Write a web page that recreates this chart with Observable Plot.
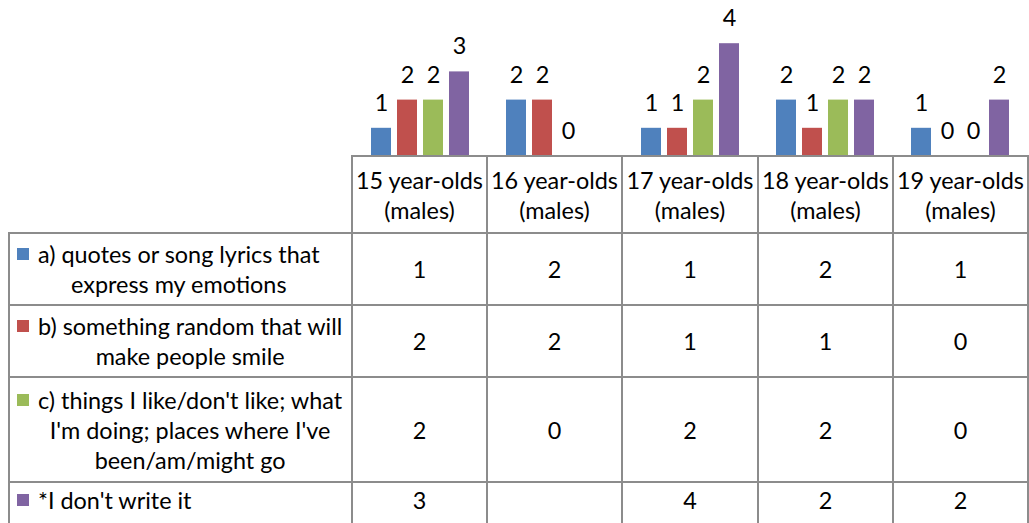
<!DOCTYPE html>
<html>
<head>
<meta charset="utf-8">
<script src="https://cdn.jsdelivr.net/npm/d3@7"></script>
<script src="https://cdn.jsdelivr.net/npm/@observablehq/plot@0.6"></script>
<style>
  html, body { margin: 0; padding: 0; background: #fff; }
  #wrap { position: relative; width: 1029px; height: 523px; overflow: hidden; font-family: Lato, sans-serif; color: #000; }
  #wrap svg { display: block; }
  table { position: absolute; left: 8px; top: 155px; border-collapse: collapse; table-layout: fixed; font-size: 23.4px; line-height: 30px; }
  td, th { border: 2px solid #8c8c8c; text-align: center; vertical-align: middle; padding: 0; font-weight: normal; white-space: pre-line; }
  th.corner { border-top: none; border-left: none; }
  td.label { text-align: left; padding-left: 7px; white-space: nowrap; }
  tr.last td { vertical-align: top; padding-top: 2px; }
  .key { display: inline-block; width: 12px; height: 12px; vertical-align: top; margin-top: 9px; margin-right: 9px; }
  .lab { display: inline-block; text-align: center; white-space: pre-line; vertical-align: top; }
</style>
</head>
<body>
<div id="wrap"></div>
<script>
// Categories (x axis / table columns)
const ages = ["15 year-olds\n(males)", "16 year-olds\n(males)", "17 year-olds\n(males)", "18 year-olds\n(males)", "19 year-olds\n(males)"];
// Series names (legend / table rows)
const seriesNames = [
  "a) quotes or song lyrics that\nexpress my emotions",
  "b) something random that will\nmake people smile",
  "c) things I like/don't like; what\nI'm doing; places where I've\nbeen/am/might go",
  "*I don't write it"
];
const seriesColors = ["#4F81BD", "#C0504D", "#9BBB59", "#8064A2"];
// Series values (null = blank)
const valuesA = [1, 2, 1, 2, 1];
const valuesB = [2, 2, 1, 1, 0];
const valuesC = [2, 0, 2, 2, 0];
const valuesD = [3, null, 4, 2, 2];
const allValues = [valuesA, valuesB, valuesC, valuesD];
const rowHeights = [72, 72, 105, 50];

const data = [];
seriesNames.forEach((s, i) => {
  ages.forEach((a, j) => {
    data.push({ age: a, series: s, value: allValues[i][j] });
  });
});
const present = data.filter(d => d.value != null);

const chart = Plot.plot({
  width: 1029,
  height: 157,
  marginLeft: 352,
  marginRight: 1,
  marginTop: 15,
  marginBottom: 1,
  style: { fontFamily: "Lato, sans-serif", background: "transparent" },
  fx: { domain: ages, padding: 0, axis: null },
  x: { domain: seriesNames, paddingInner: 0.222, paddingOuter: 0.618, axis: null },
  y: { domain: [0, 5], axis: null },
  color: { domain: seriesNames, range: seriesColors },
  marks: [
    Plot.barY(present, { fx: "age", x: "series", y: "value", fill: "series" }),
    Plot.text(present, { fx: "age", x: "series", y: "value", text: d => String(d.value), dy: -25, fontSize: 23.4, fill: "#000" })
  ]
});
const wrap = document.getElementById("wrap");
wrap.appendChild(chart);

// Data table
const table = document.createElement("table");
const colgroup = document.createElement("colgroup");
[343, 135, 135, 136, 135, 135].forEach(w => {
  const c = document.createElement("col");
  c.style.width = w + "px";
  colgroup.appendChild(c);
});
table.appendChild(colgroup);
const head = document.createElement("tr");
head.style.height = "77px";
const corner = document.createElement("th");
corner.className = "corner";
head.appendChild(corner);
ages.forEach(a => {
  const th = document.createElement("th");
  th.textContent = a;
  head.appendChild(th);
});
table.appendChild(head);
seriesNames.forEach((s, i) => {
  const tr = document.createElement("tr");
  tr.style.height = rowHeights[i] + "px";
  if (i === seriesNames.length - 1) tr.className = "last";
  const td = document.createElement("td");
  td.className = "label";
  const key = document.createElement("span");
  key.className = "key";
  key.style.background = seriesColors[i];
  const lab = document.createElement("span");
  lab.className = "lab";
  lab.textContent = s;
  td.appendChild(key);
  td.appendChild(lab);
  tr.appendChild(td);
  allValues[i].forEach(v => {
    const c = document.createElement("td");
    c.textContent = v == null ? "" : String(v);
    tr.appendChild(c);
  });
  table.appendChild(tr);
});
wrap.appendChild(table);
</script>
</body>
</html>
